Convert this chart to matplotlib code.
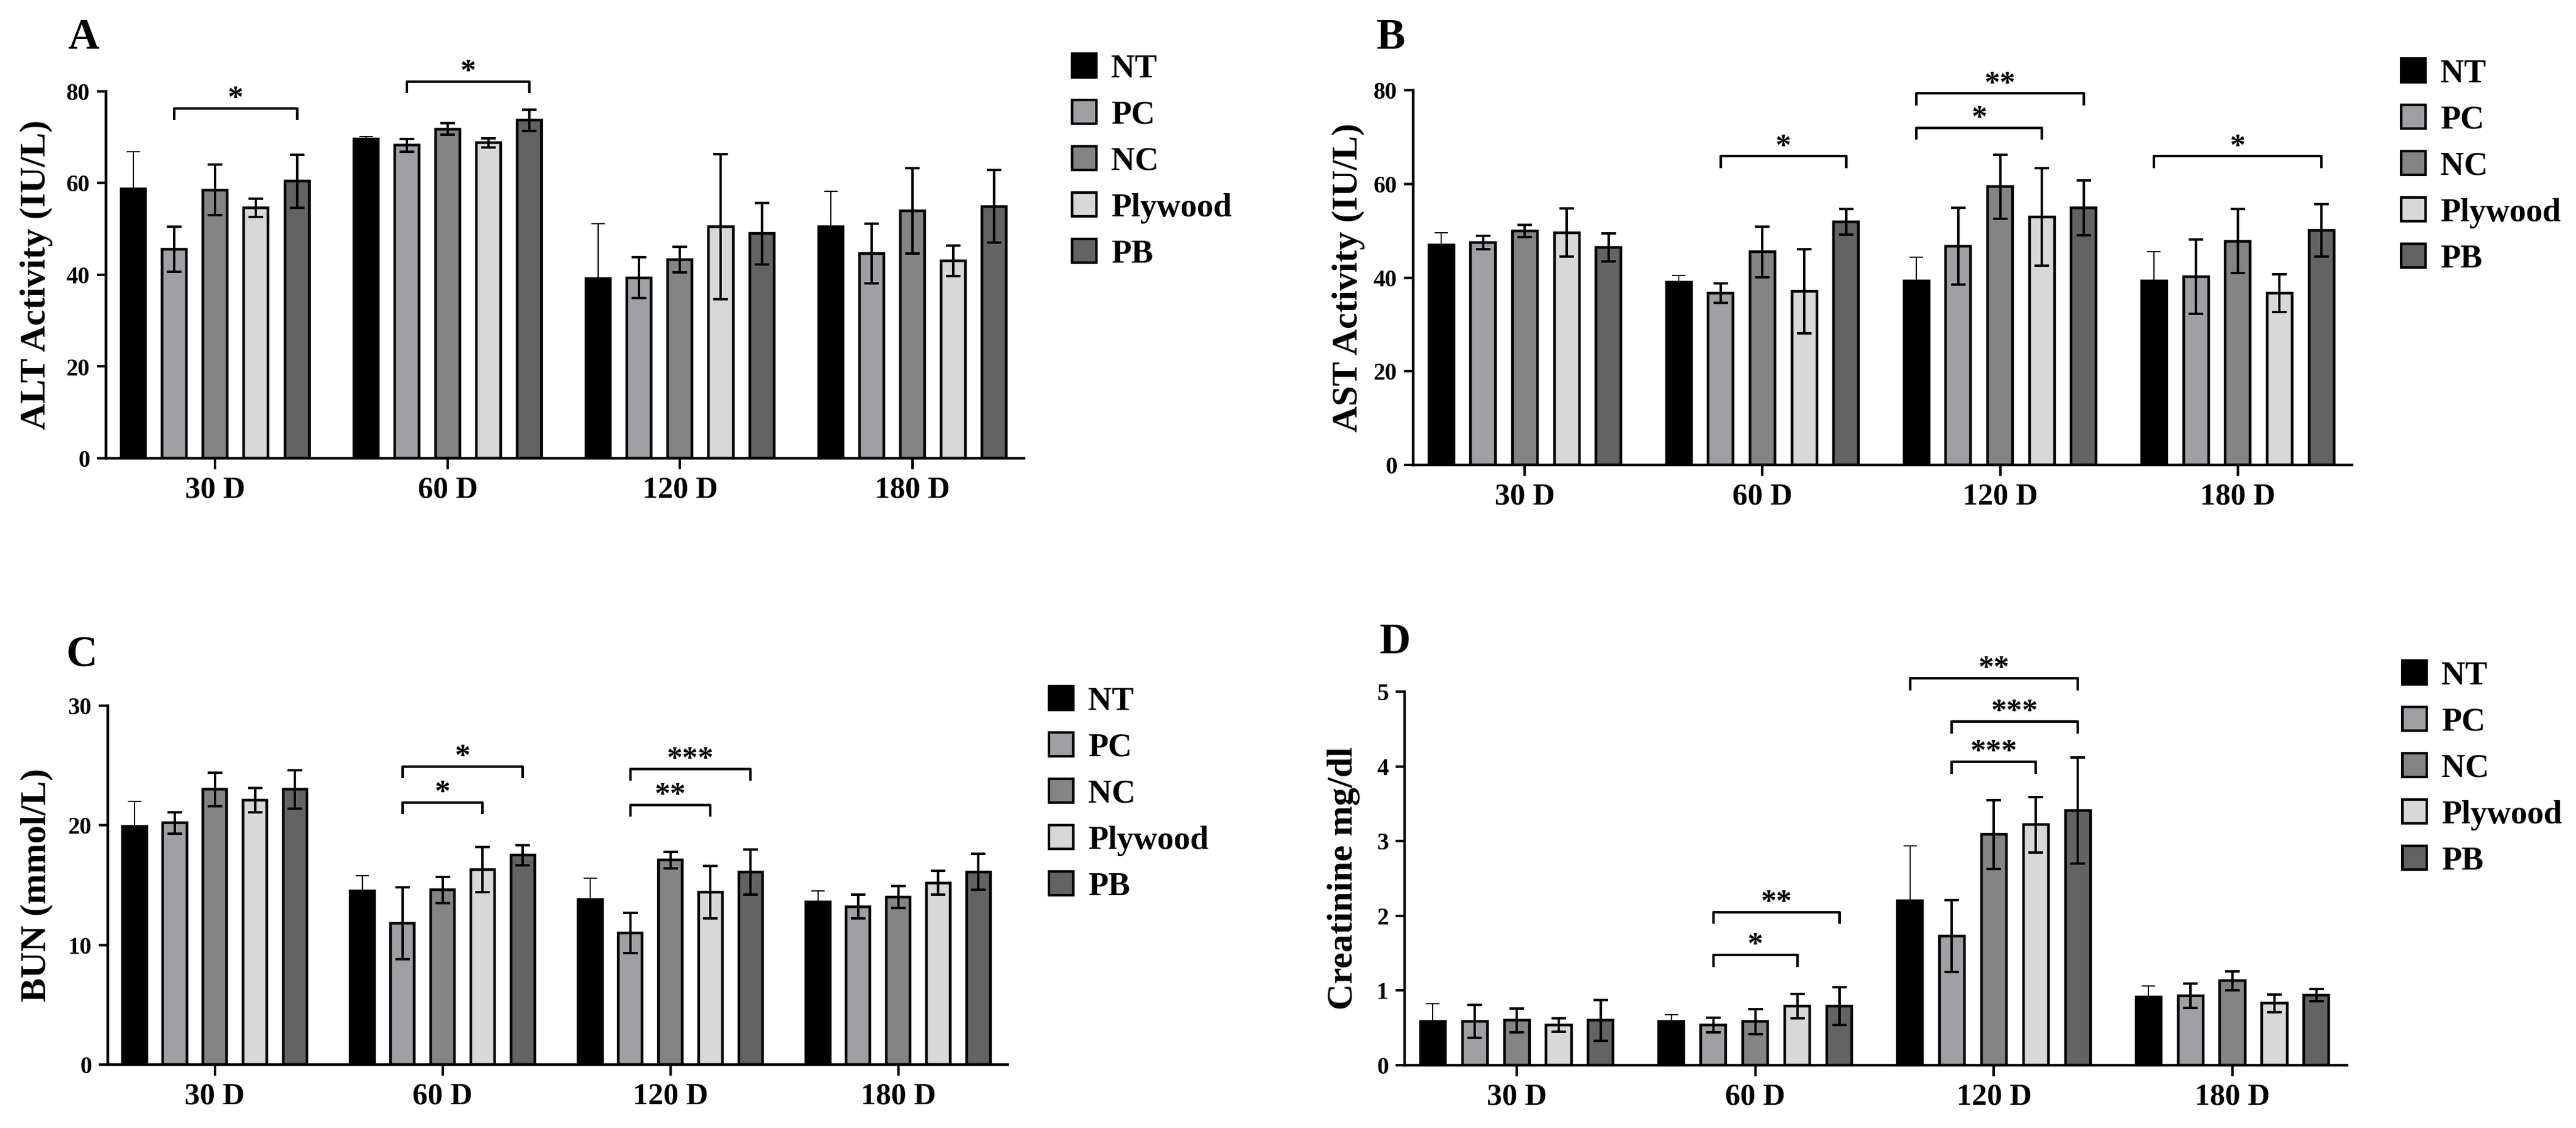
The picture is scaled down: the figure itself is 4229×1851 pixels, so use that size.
import matplotlib
matplotlib.use("Agg")
import matplotlib.pyplot as plt
from matplotlib.patches import Patch
import numpy as np

plt.rcParams["font.family"] = ["Liberation Serif", "DejaVu Serif"]
plt.rcParams["font.weight"] = "bold"
plt.rcParams["axes.labelweight"] = "bold"

W, H, DPI = 4229, 1851, 100

groups = ["NT", "PC", "NC", "Plywood", "PB"]
colors = ["#000000", "#a0a0a4", "#848484", "#d8d8d8", "#636363"]
days = ["30 D", "60 D", "120 D", "180 D"]

# rows = day, columns = group (NT, PC, NC, Plywood, PB)
alt_mean = [[58.7, 45.6, 58.5, 54.6, 60.4],
            [69.6, 68.3, 71.8, 68.8, 73.7],
            [39.2, 39.4, 43.3, 50.5, 49.0],
            [50.5, 44.7, 54.0, 43.1, 54.9]]
alt_err = [[8.2, 4.9, 5.5, 2.0, 5.8],
           [0.5, 1.4, 1.3, 1.0, 2.3],
           [11.9, 4.4, 2.8, 15.8, 6.7],
           [7.7, 6.5, 9.3, 3.3, 7.9]]
# (day, group from, group to, bracket height, label)
alt_sig = [(0, 1, 4, 76.3, "*"), (1, 1, 4, 82.1, "*")]

ast_mean = [[46.9, 47.5, 50.0, 49.6, 46.4],
            [39.0, 36.7, 45.5, 37.1, 51.9],
            [39.3, 46.7, 59.4, 53.0, 54.9],
            [39.3, 40.2, 47.8, 36.7, 50.1]]
ast_err = [[2.6, 1.4, 1.3, 5.1, 3.0],
           [1.5, 2.1, 5.4, 9.0, 2.7],
           [5.0, 8.2, 6.8, 10.4, 5.9],
           [6.2, 7.9, 6.8, 4.0, 5.6]]
ast_sig = [(1, 1, 4, 65.9, "*"), (2, 0, 3, 72.0, "*"),
           (2, 0, 4, 79.3, "**"), (3, 0, 4, 65.9, "*")]

bun_mean = [[19.9, 20.2, 23.0, 22.1, 23.0],
            [14.5, 11.8, 14.6, 16.3, 17.5],
            [13.8, 11.0, 17.1, 14.4, 16.1],
            [13.6, 13.2, 14.0, 15.2, 16.1]]
bun_err = [[2.1, 0.9, 1.4, 1.0, 1.6],
           [1.3, 3.0, 1.1, 1.9, 0.85],
           [1.8, 1.7, 0.7, 2.2, 1.9],
           [0.9, 1.0, 0.9, 1.0, 1.5]]
bun_sig = [(1, 1, 3, 21.9, "*"), (1, 1, 4, 24.9, "*"),
           (2, 1, 3, 21.7, "**"), (2, 1, 4, 24.7, "***")]

cre_mean = [[0.585, 0.585, 0.60, 0.54, 0.60],
            [0.585, 0.54, 0.585, 0.79, 0.79],
            [2.20, 1.73, 3.09, 3.22, 3.41],
            [0.91, 0.93, 1.13, 0.83, 0.94]]
cre_err = [[0.24, 0.22, 0.16, 0.09, 0.275],
           [0.095, 0.10, 0.165, 0.165, 0.25],
           [0.74, 0.48, 0.46, 0.37, 0.71],
           [0.15, 0.16, 0.13, 0.12, 0.08]]
cre_sig = [(1, 1, 3, 1.475, "*"), (1, 1, 4, 2.05, "**"),
           (2, 1, 3, 4.06, "***"), (2, 1, 4, 4.60, "***"),
           (2, 0, 4, 5.18, "**")]


def px_rect(left, right, top, bottom):
    return [left / W, 1 - bottom / H, (right - left) / W, (bottom - top) / H]


panels = [
    dict(letter="A", letter_xy=(111, 80), rect=px_rect(174, 1681, 150, 752),
         ylabel="ALT Activity (IU/L)", ymax=80, ystep=20, label_x=-0.058,
         mean=alt_mean, err=alt_err, sig=alt_sig, leg_xy=(1760, 88)),
    dict(letter="B", letter_xy=(2260, 80), rect=px_rect(2320, 3861, 148, 763),
         ylabel="AST Activity (IU/L)", ymax=80, ystep=20, label_x=-0.051,
         mean=ast_mean, err=ast_err, sig=ast_sig, leg_xy=(3942, 96)),
    dict(letter="C", letter_xy=(108, 1093), rect=px_rect(177, 1654, 1158, 1747),
         ylabel="BUN (mmol/L)", ymax=30, ystep=10, label_x=-0.061,
         mean=bun_mean, err=bun_err, sig=bun_sig, leg_xy=(1722, 1126)),
    dict(letter="D", letter_xy=(2265, 1072), rect=px_rect(2306, 3853, 1135, 1748),
         ylabel="Creatinine mg/dl", ymax=5, ystep=1, label_x=-0.047,
         mean=cre_mean, err=cre_err, sig=cre_sig, leg_xy=(3944, 1084)),
]

pitch = 0.176
bar_w = 0.105
x = np.arange(len(days))

fig = plt.figure(figsize=(W / DPI, H / DPI), dpi=DPI)

for p in panels:
    ax = fig.add_axes(p["rect"])
    mean = np.array(p["mean"])
    err = np.array(p["err"])
    for i, g in enumerate(groups):
        xi = x + (i - 2) * pitch
        ax.bar(xi, mean[:, i], width=bar_w, color=colors[i], edgecolor="black",
               linewidth=3.2, zorder=2, label=g)
        if i == 0:
            # only the upper whisker shows on the black bar
            ax.errorbar(xi, mean[:, i], yerr=[np.zeros(len(days)), err[:, i]],
                        fmt="none", ecolor="black", elinewidth=1.4, capsize=8,
                        capthick=1.4, zorder=3)
        else:
            ax.errorbar(xi, mean[:, i], yerr=err[:, i], fmt="none", ecolor="black",
                        elinewidth=2.8, capsize=8.5, capthick=2.8, zorder=3)

    ymax = p["ymax"]
    ystep = p["ystep"]
    drop = 0.032 * ymax
    for d, a, b, y, lab in p["sig"]:
        x1 = x[d] + (a - 2) * pitch
        x2 = x[d] + (b - 2) * pitch
        ax.plot([x1, x1, x2, x2], [y - drop, y, y, y - drop], color="black",
                lw=3.0, clip_on=False, zorder=4, solid_capstyle="butt")
        ax.annotate(lab, ((x1 + x2) / 2, y), xytext=(0, 2), textcoords="offset points",
                    ha="center", va="baseline", fontsize=37, annotation_clip=False)

    ax.set_xlim(-0.47, 3.48)
    ax.set_ylim(0, ymax)
    ax.set_yticks(np.arange(0, ymax + ystep / 2, ystep))
    ax.set_xticks(x)
    ax.set_xticklabels(days)
    for s in ["top", "right"]:
        ax.spines[s].set_visible(False)
    for s in ["left", "bottom"]:
        ax.spines[s].set_linewidth(3.2)
    ax.tick_params(axis="y", length=11, width=3.0, labelsize=28, pad=8)
    ax.tick_params(axis="x", length=13, width=3.0, labelsize=36, pad=8)
    ax.set_ylabel(p["ylabel"], fontsize=43)
    ax.yaxis.set_label_coords(p["label_x"], 0.5)

    lx, ly = p["leg_xy"]
    handles = [Patch(facecolor=c, edgecolor="black", linewidth=3.0) for c in colors]
    fig.legend(handles, groups, loc="upper left",
               bbox_to_anchor=(lx / W, 1 - ly / H), frameon=False, fontsize=39,
               handlelength=0.74, handleheight=0.74, handletextpad=0.45,
               labelspacing=0.47, borderpad=0, borderaxespad=0)

    fx, fy = p["letter_xy"]
    fig.text(fx / W, 1 - fy / H, p["letter"], fontsize=51, ha="left", va="baseline")

fig.savefig("out.png", dpi=DPI)
